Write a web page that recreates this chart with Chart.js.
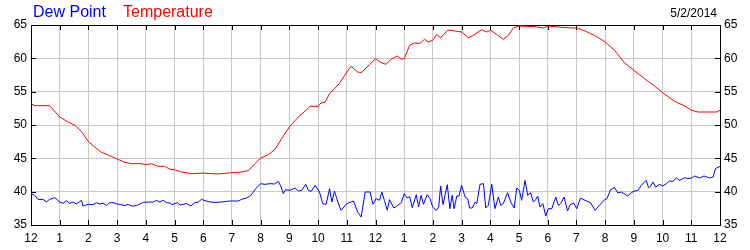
<!DOCTYPE html>
<html lang="en">
<head>
    <meta charset="UTF-8">
    <title>Dew Point / Temperature 5/2/2014</title>
    <script src="https://cdn.jsdelivr.net/npm/chart.js"></script>
    <style>
        body {
            margin: 0;
            background-color: #FFFFFF;
            font-family: "Liberation Sans", Arial, sans-serif;
        }
        #wrap {
            position: relative;
            width: 750px;
            height: 250px;
        }
        .legend {
            position: absolute;
            top: 4px;
            font-size: 16px;
            line-height: 16px;
            white-space: nowrap;
        }
        #dateLabel {
            position: absolute;
            top: 7px;
            right: 33px;
            font-size: 12px;
            line-height: 12px;
            color: #000;
        }
    </style>
</head>
<body>
    <div id="wrap">
        <canvas id="weatherChart" width="750" height="250"></canvas>
        <span class="legend" style="left: 33px; color: #0000FF;">Dew Point</span>
        <span class="legend" style="left: 123px; color: #FF0000;">Temperature</span>
        <span id="dateLabel">5/2/2014</span>
    </div>
    <script>
        // hours after midnight
        const tempHours = [0, 0.13, 0.65, 1, 1.29, 1.52, 1.76, 2, 2.22, 2.45, 2.69, 3, 3.27, 3.5, 3.85, 3.99, 4.2, 4.43, 4.66, 4.85,
            5, 5.24, 5.59, 5.99, 6.29, 6.52, 6.99, 7.34, 7.57, 7.8, 8, 8.27, 8.5, 8.73, 9, 9.31, 9.55, 9.72,
            10, 10.1, 10.24, 10.4, 10.74, 11, 11.15, 11.38, 11.5, 11.79, 12, 12.2, 12.37, 12.52, 12.76, 12.9, 13, 13.19, 13.36, 13.53, 13.71, 13.83, 13.99, 14.14, 14.26, 14.52,
            14.77, 15, 15.23, 15.41, 15.7, 15.87, 16.01, 16.22, 16.45, 16.63, 16.8, 17.01, 17.56, 17.85, 18.02, 18.49, 18.84, 19.02, 19.3, 19.49,
            19.63, 20, 20.33, 20.67, 21, 21.37, 21.72, 22, 22.42, 22.77, 23.01, 23.23, 23.87, 24];
        const tempValues = [53.2, 52.9, 52.9, 51.2, 50.45, 50, 49, 47.5, 46.7, 45.9, 45.5, 44.9, 44.4, 44.2, 44.2, 44.05, 44.2, 43.8, 43.8, 43.35,
            43.3, 42.95, 42.7, 42.8, 42.7, 42.65, 42.85, 42.95, 43.15, 44.2, 45.05, 45.55, 46.35, 47.95, 49.7, 51.2, 52.1, 52.8,
            52.8, 53.3, 53.4, 54.7, 56.2, 57.95, 58.8, 57.95, 57.85, 59.05, 59.95, 59.35, 59.1, 59.8, 60.35, 59.85, 59.95, 61.95, 62.3, 62.2, 62.85, 62.45, 62.7, 63.6, 63.05, 64.25,
            64.1, 63.95, 63.1, 63.45, 64.3, 63.95, 64.2, 63.6, 62.85, 63.45, 64.55, 64.85, 64.75, 64.55, 64.85, 64.65, 64.55, 64.55, 64.1, 63.7,
            63.45, 62.45, 61.2, 59.35, 58.2, 56.95, 55.85, 54.85, 53.55, 52.85, 52.2, 51.95, 51.95, 52.2];

        const dewHours = [0, 0.13, 0.24, 0.42, 0.53, 0.65, 0.83, 1, 1.12, 1.23, 1.35, 1.47, 1.58, 1.76, 1.81, 2, 2.16, 2.28, 2.4, 2.51, 2.63, 2.74, 2.86, 2.99,
            3.15, 3.27, 3.38, 3.5, 3.67, 3.91, 4.08, 4.26, 4.37, 4.49, 4.6, 4.72, 4.85,
            4.9, 5.01, 5.1, 5.19, 5.3, 5.42, 5.57, 5.71, 5.83, 5.94, 6.06, 6.23, 6.41, 6.64, 6.81, 6.99, 7.22, 7.34, 7.51, 7.66, 7.83,
            8, 8.15, 8.33, 8.48, 8.62, 8.71, 8.79, 8.87, 9.02, 9.2, 9.31, 9.43, 9.57, 9.66,
            9.76, 9.9, 10.05, 10.16, 10.28, 10.4, 10.48, 10.57, 10.69, 10.8, 11, 11.15, 11.23, 11.38, 11.5, 11.64, 11.81, 11.91,
            12.02, 12.14, 12.22, 12.31, 12.41, 12.49, 12.64, 12.78, 12.9, 13, 13.1, 13.19, 13.28, 13.42, 13.5, 13.59, 13.67, 13.8, 13.9, 13.99,
            14.12, 14.2, 14.27, 14.35, 14.5, 14.59, 14.67, 14.74, 14.83, 14.91, 15, 15.12, 15.21, 15.28, 15.37, 15.47, 15.53, 15.64, 15.76, 15.84, 15.93,
            16.05, 16.16, 16.28, 16.36, 16.45, 16.6, 16.71, 16.83, 16.92, 17.01, 17.09, 17.21, 17.3, 17.4, 17.5, 17.58, 17.65, 17.73, 17.83, 17.93,
            18.02, 18.14, 18.28, 18.37, 18.45, 18.57, 18.69, 18.78, 18.9, 19.01, 19.14, 19.3, 19.49, 19.65, 19.8, 19.98,
            20.06, 20.19, 20.33, 20.44, 20.56, 20.7, 20.79, 20.91, 21, 21.14, 21.26, 21.43, 21.51, 21.58, 21.66, 21.76, 21.9,
            22, 22.13, 22.24, 22.36, 22.48, 22.59, 22.77, 22.88, 23.01, 23.12, 23.29, 23.44, 23.64, 23.76, 23.84, 23.93, 24];
        const dewValues = [39.7, 39.45, 38.85, 38.85, 38.45, 38.85, 39.1, 38.45, 38.25, 38.65, 38.25, 38.45, 38.15, 38.7, 37.85, 38.1, 38.05, 38.35, 38.15, 38.3, 37.9, 38.35, 38.35, 38.15,
            38.05, 37.9, 38.1, 37.85, 37.9, 38.4, 38.45, 38.45, 38.7, 38.45, 38.7, 38.35, 38.3,
            38.05, 38.2, 38.35, 38, 38.1, 38.2, 37.85, 38.35, 38.45, 38.85, 38.65, 38.45, 38.4, 38.45, 38.55, 38.6, 38.6, 38.85, 39.05, 39.45, 40.45,
            41.2, 41.1, 41.2, 41.15, 41.55, 40.7, 39.7, 40.3, 40.2, 40.55, 40.1, 40.2, 41.1, 40.2,
            40.05, 40.95, 39.95, 38.2, 38.1, 40.45, 38.45, 40.05, 38.45, 37.2, 38.2, 38.45, 38.6, 36.95, 36.2, 39.95, 39.95, 38.1,
            38.95, 38.7, 39.95, 38.7, 37.2, 38.8, 37.55, 37.95, 38.35, 39.7, 39.05, 39.25, 37.6, 39.55, 37.7, 39.45, 38.1, 39.55, 38.95, 37.7,
            37.2, 37.7, 40.85, 38.05, 41.05, 37.45, 39.45, 37.45, 39.35, 39.35, 40.95, 39.2, 38.95, 37.55, 37.55, 38.45, 38.2, 41.1, 41.2, 37.55, 37.95,
            41.1, 37.45, 39.2, 37.95, 38.2, 39.85, 38.45, 37.55, 40.55, 40.2, 38.7, 41.7, 39.45, 39.85, 38.45, 38.8, 39.35, 37.7, 38.2, 36.35,
            37.45, 37.45, 39.2, 37.95, 38.2, 39.2, 37.1, 38.05, 38.3, 37.45, 39.05, 38.7, 38.35, 37.2, 37.95, 38.8,
            38.95, 40.3, 40.6, 39.8, 39.95, 39.6, 39.35, 39.85, 40.05, 40.2, 40.95, 41.7, 40.6, 40.8, 41.45, 40.7, 41.1,
            40.85, 41.2, 41.6, 41.55, 42.05, 41.7, 42.1, 41.95, 42.05, 42.35, 42.05, 42.35, 42.05, 42.2, 43.45, 43.65, 43.8];

        const yMin = 35, yMax = 65, yStep = 5;
        const gridGray = '#C8C8C8';
        const tickFont = { family: "'Liberation Sans', Arial, sans-serif", size: 12 };

        function toPoints(xs, ys) {
            return xs.map((h, i) => ({ x: h, y: ys[i] }));
        }

        // black frame with short inward tick marks on all four sides
        const frameTicks = {
            id: 'frameTicks',
            beforeDatasetsDraw(chart) {
                const ctx = chart.ctx;
                const a = chart.chartArea;
                const xs = chart.scales.x;
                const ys = chart.scales.y;
                const len = 5;
                ctx.save();
                ctx.strokeStyle = '#000';
                ctx.lineWidth = 1;
                ctx.beginPath();
                xs.ticks.forEach(t => {
                    const px = Math.round(xs.getPixelForValue(t.value)) + 0.5;
                    ctx.moveTo(px, a.top);
                    ctx.lineTo(px, a.top + len);
                    ctx.moveTo(px, a.bottom);
                    ctx.lineTo(px, a.bottom - len);
                });
                ys.ticks.forEach(t => {
                    const py = Math.round(ys.getPixelForValue(t.value)) + 0.5;
                    ctx.moveTo(a.left, py);
                    ctx.lineTo(a.left + len, py);
                    ctx.moveTo(a.right, py);
                    ctx.lineTo(a.right - len, py);
                });
                ctx.stroke();
                ctx.strokeRect(Math.round(a.left) + 0.5, Math.round(a.top) + 0.5,
                    Math.round(a.right - a.left), Math.round(a.bottom - a.top));
                ctx.restore();
            }
        };

        const ctx = document.getElementById('weatherChart').getContext('2d');
        const weatherChart = new Chart(ctx, {
            type: 'line',
            data: {
                datasets: [
                    {
                        label: 'Temperature',
                        data: toPoints(tempHours, tempValues),
                        borderColor: '#FF0000',
                        borderWidth: 1,
                        pointRadius: 0,
                        tension: 0
                    },
                    {
                        label: 'Dew Point',
                        data: toPoints(dewHours, dewValues),
                        borderColor: '#0000FF',
                        borderWidth: 1,
                        pointRadius: 0,
                        tension: 0
                    }
                ]
            },
            options: {
                responsive: false,
                animation: false,
                devicePixelRatio: 1,
                layout: { padding: { top: 25, left: 0, right: 0, bottom: 0 } },
                plugins: {
                    legend: { display: false },
                    tooltip: { enabled: false }
                },
                scales: {
                    x: {
                        type: 'linear',
                        min: 0,
                        max: 24,
                        afterFit(scale) { scale.height = 25; },
                        grid: { color: gridGray, drawTicks: false },
                        border: { color: '#000' },
                        ticks: {
                            stepSize: 1,
                            autoSkip: false,
                            maxRotation: 0,
                            padding: 6,
                            color: '#000',
                            font: tickFont,
                            callback: v => (v % 12 === 0 ? 12 : v % 12)
                        }
                    },
                    y: {
                        position: 'left',
                        min: yMin,
                        max: yMax,
                        afterFit(scale) { scale.width = 31; },
                        grid: { color: gridGray, drawTicks: false },
                        border: { color: '#000' },
                        ticks: { stepSize: yStep, padding: 4, color: '#000', font: tickFont }
                    },
                    y2: {
                        position: 'right',
                        min: yMin,
                        max: yMax,
                        afterFit(scale) { scale.width = 30; },
                        grid: { display: false, drawTicks: false },
                        border: { color: '#000' },
                        ticks: { stepSize: yStep, padding: 4, color: '#000', font: tickFont }
                    }
                }
            },
            plugins: [frameTicks]
        });
    </script>
</body>
</html>
